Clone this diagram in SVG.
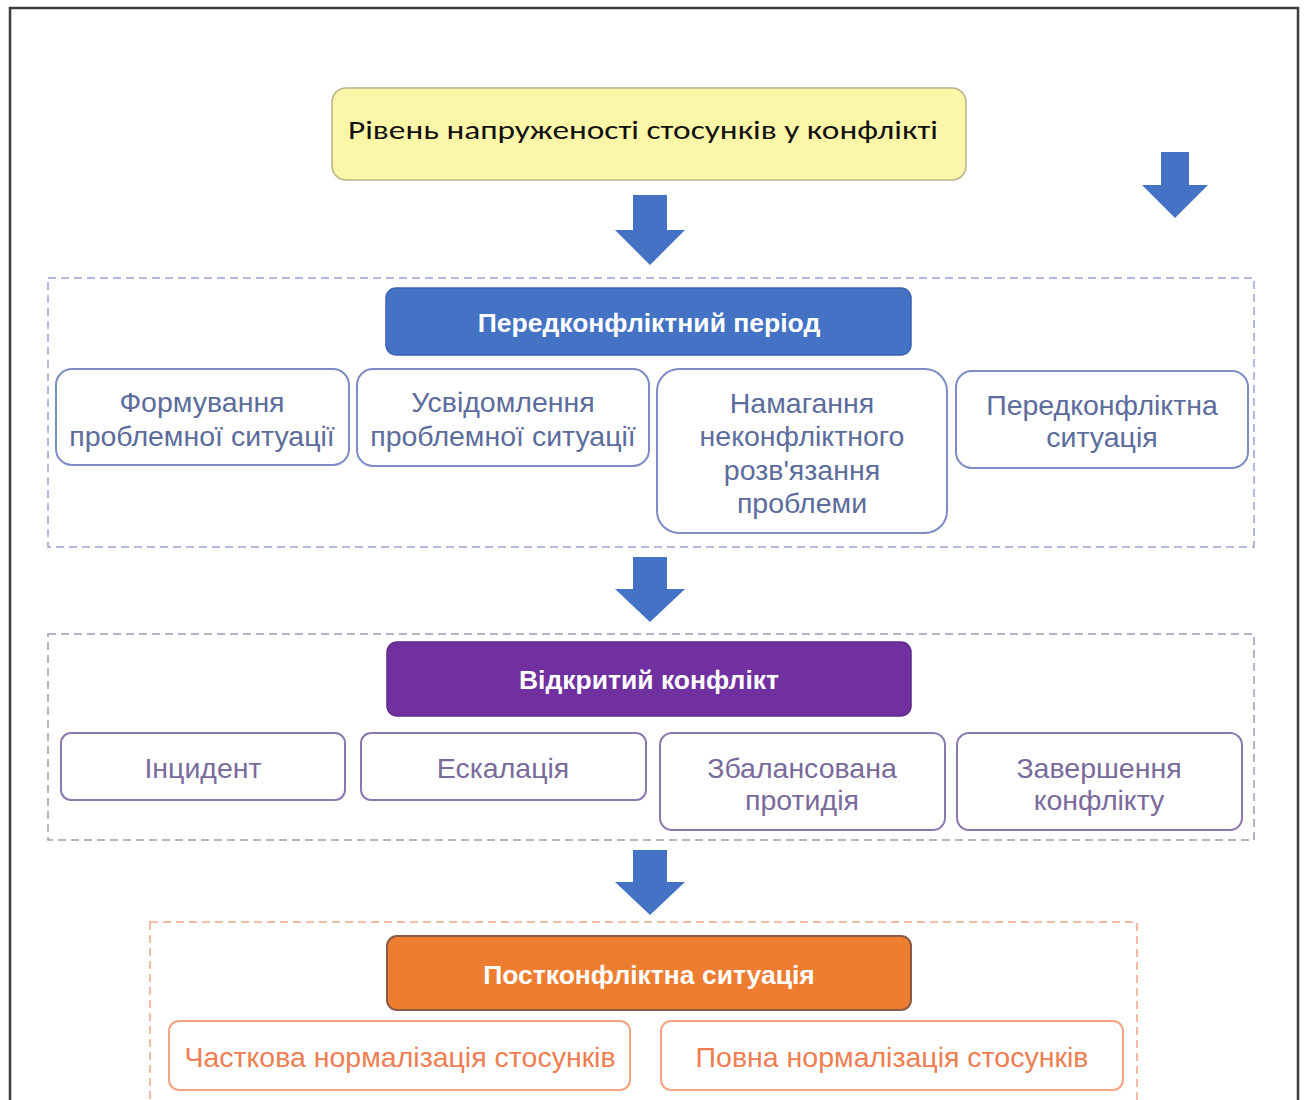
<svg xmlns="http://www.w3.org/2000/svg" width="1305" height="1100" viewBox="0 0 1305 1100">
<defs>
<style>
.frame{fill:none;stroke:#3c3c3c;stroke-width:2.5}
.arrow{fill:#4472c4}
.grp1{fill:none;stroke:#9aa3d8;stroke-width:1.5;stroke-dasharray:8 5}
.grp2{fill:none;stroke:#a09cb8;stroke-width:1.5;stroke-dasharray:8 5}
.grp3{fill:none;stroke:#f2a58a;stroke-width:1.5;stroke-dasharray:8 5}
.t{font-family:"Liberation Sans",Arial,sans-serif;text-anchor:middle;font-size:28.5px}
.hd{font-weight:bold;fill:#ffffff;font-size:26.5px}
.b1{fill:#ffffff;stroke:#7d8cc4;stroke-width:2}
.b2{fill:#ffffff;stroke:#8c78b0;stroke-width:2}
.b3{fill:#ffffff;stroke:#f2a484;stroke-width:2}
.c1{fill:#5c6c9c}
.c2{fill:#7a6a9c}
.c3{fill:#ee7e52}
</style>
</defs>
<rect class="frame" x="10" y="8" width="1288" height="1100"/>

<g id="top">
<rect x="332" y="88" width="634" height="92" rx="14" fill="#fcf6a8" stroke="#b8b48a" stroke-width="1.5"/>
<text x="643" y="139" font-family="Carlito,'Liberation Sans',Arial,sans-serif" font-size="26" fill="#111111" text-anchor="middle" textLength="590" lengthAdjust="spacingAndGlyphs">Рівень напруженості стосунків у конфлікті</text>
</g>

<g id="connectors">
<polygon class="arrow" points="633,195 667,195 667,230 685,230 650,265 615,230 633,230"/>
<polygon class="arrow" points="1161,152 1189,152 1189,185 1208,185 1175,218 1142,185 1161,185"/>
<polygon class="arrow" points="633,557 667,557 667,589 685,589 650,622 615,589 633,589"/>
<polygon class="arrow" points="633,850 667,850 667,882 685,882 650,915 615,882 633,882"/>
</g>

<g id="group-pre">
<rect class="grp1" x="48" y="278" width="1206" height="269"/>
<g id="pre-header">
<rect x="386" y="288" width="525" height="67" rx="10" fill="#4472c4" stroke="#3a62b0" stroke-width="1.5"/>
<text class="t hd" x="649" y="332">Передконфліктний період</text>
</g>
<g id="pre-1">
<rect class="b1" x="56" y="369" width="293" height="96" rx="16"/>
<text class="t c1" x="202" y="412">Формування</text>
<text class="t c1" x="202" y="446">проблемної ситуації</text>
</g>
<g id="pre-2">
<rect class="b1" x="357" y="369" width="292" height="97" rx="16"/>
<text class="t c1" x="503" y="412">Усвідомлення</text>
<text class="t c1" x="503" y="446">проблемної ситуації</text>
</g>
<g id="pre-3">
<rect class="b1" x="657" y="369" width="290" height="164" rx="22"/>
<text class="t c1" x="802" y="413">Намагання</text>
<text class="t c1" x="802" y="446">неконфліктного</text>
<text class="t c1" x="802" y="480">розв'язання</text>
<text class="t c1" x="802" y="513">проблеми</text>
</g>
<g id="pre-4">
<rect class="b1" x="956" y="371" width="292" height="97" rx="16"/>
<text class="t c1" x="1102" y="415">Передконфліктна</text>
<text class="t c1" x="1102" y="447">ситуація</text>
</g>
</g>

<g id="group-open">
<rect class="grp2" x="48" y="634" width="1206" height="206"/>
<g id="open-header">
<rect x="387" y="642" width="524" height="74" rx="10" fill="#7030a0" stroke="#5e2a88" stroke-width="1.5"/>
<text class="t hd" x="649" y="689">Відкритий конфлікт</text>
</g>
<g id="open-1">
<rect class="b2" x="61" y="733" width="284" height="67" rx="10"/>
<text class="t c2" x="203" y="778">Інцидент</text>
</g>
<g id="open-2">
<rect class="b2" x="361" y="733" width="285" height="67" rx="10"/>
<text class="t c2" x="503" y="778">Ескалація</text>
</g>
<g id="open-3">
<rect class="b2" x="660" y="733" width="285" height="97" rx="12"/>
<text class="t c2" x="802" y="778">Збалансована</text>
<text class="t c2" x="802" y="810">протидія</text>
</g>
<g id="open-4">
<rect class="b2" x="957" y="733" width="285" height="97" rx="12"/>
<text class="t c2" x="1099" y="778">Завершення</text>
<text class="t c2" x="1099" y="810">конфлікту</text>
</g>
</g>

<g id="group-post">
<rect class="grp3" x="150" y="922" width="987" height="200"/>
<g id="post-header">
<rect x="387" y="936" width="524" height="74" rx="10" fill="#ed7d31" stroke="#8c5a44" stroke-width="2"/>
<text class="t hd" x="649" y="984">Постконфліктна ситуація</text>
</g>
<g id="post-1">
<rect class="b3" x="169" y="1021" width="461" height="69" rx="10"/>
<text class="t c3" x="400" y="1067">Часткова нормалізація стосунків</text>
</g>
<g id="post-2">
<rect class="b3" x="661" y="1021" width="462" height="69" rx="10"/>
<text class="t c3" x="892" y="1067">Повна нормалізація стосунків</text>
</g>
</g>
</svg>
